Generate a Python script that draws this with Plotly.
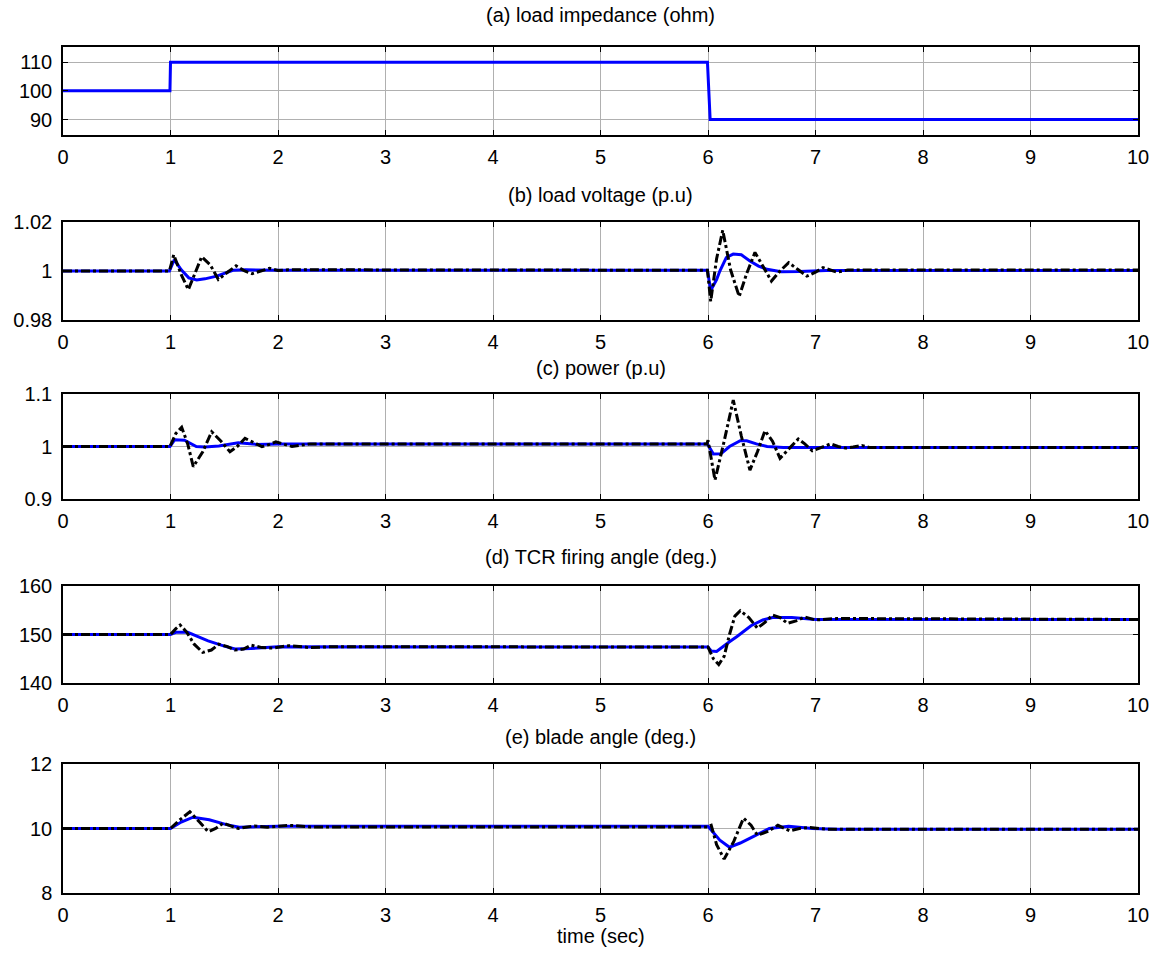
import plotly.graph_objects as go

# ---------------- data ----------------
t_a = [0, 0.995, 1.0, 5.995, 6.02, 10]
z_a = [100, 100, 110, 110, 90, 90]

t_b_blue = [0, 0.99, 1.035, 1.10, 1.17, 1.244, 1.32, 1.43, 1.58, 1.7, 2.0, 5.995, 6.025, 6.08, 6.11, 6.17,
            6.235, 6.31, 6.39, 6.47, 6.55, 6.68, 6.85, 7.1, 10]
v_b_blue = [1.0, 1.0, 1.0046, 1.0005, 0.9972, 0.9963, 0.9968, 0.9979, 1.0003, 1.0005, 1.0003, 1.0003, 0.992,
            0.9965, 1.0, 1.0055, 1.0069, 1.0066, 1.0041, 1.002, 1.0007, 0.9997, 0.9998, 1.0002, 1.0002]

t_b_blk = [0, 0.99, 1.03, 1.10, 1.166, 1.23, 1.29, 1.37, 1.445, 1.53, 1.61, 1.69, 1.76, 1.84, 1.92, 2.0, 2.1,
           5.995, 6.025, 6.08, 6.137, 6.21, 6.29, 6.36, 6.437, 6.51, 6.59, 6.67, 6.75, 6.84, 6.92, 7.0, 7.07,
           7.2, 7.3, 10]
v_b_blk = [1.0, 1.0, 1.0066, 0.9985, 0.9924, 0.9995, 1.0058, 1.0025, 0.99655, 0.9995, 1.0021, 1.0, 0.9989,
           1.0, 1.0011, 1.0002, 1.0005, 1.0003, 0.9876, 1.005, 1.0166, 1.0005, 0.9896, 0.999, 1.0076, 1.002,
           0.9959, 1.0, 1.0034, 1.0005, 0.9979, 0.9995, 1.0014, 0.9995, 1.0004, 1.0004]

t_c_blue = [0, 0.995, 1.04, 1.13, 1.24, 1.32, 1.45, 1.63, 1.8, 2.0, 5.995, 6.05, 6.12, 6.2, 6.3, 6.36,
            6.45, 6.55, 6.7, 10]
v_c_blue = [1.0, 1.0, 1.013, 1.012, 1.0, 0.999, 1.001, 1.007, 1.004, 1.005, 1.005, 0.9857, 0.986, 1.0,
            1.011, 1.011, 1.005, 1.0, 0.998, 0.998]

t_c_blk = [0, 0.995, 1.05, 1.104, 1.16, 1.212, 1.30, 1.383, 1.47, 1.553, 1.62, 1.693, 1.77, 1.85, 1.92,
           1.98, 2.06, 2.13, 2.3, 5.99, 6.0, 6.065, 6.15, 6.235, 6.31, 6.39, 6.46, 6.53, 6.60, 6.67, 6.75,
           6.84, 6.90, 6.97, 7.05, 7.14, 7.21, 7.28, 7.35, 7.43, 7.5, 10]
v_c_blk = [1.0, 1.0, 1.025, 1.0366, 1.005, 0.9616, 0.99, 1.028, 1.01, 0.99, 1.0, 1.0156, 1.008, 0.9997,
           1.004, 1.009, 1.004, 1.0, 1.005, 1.005, 1.012, 0.936, 1.01, 1.0886, 1.02, 0.955, 0.99, 1.030,
           1.01, 0.9775, 0.995, 1.0143, 1.005, 0.992, 0.998, 1.005, 1.0, 0.997, 0.999, 1.002, 0.998, 0.998]

t_d_blue = [0, 1.0, 1.05, 1.16, 1.25, 1.35, 1.5, 1.6, 1.75, 2.0, 6.0, 6.03, 6.08, 6.13, 6.2, 6.27, 6.4,
            6.51, 6.6, 6.78, 7.0, 10]
v_d_blue = [150, 150, 150.45, 150.45, 149.6, 148.7, 147.6, 147.0, 147.1, 147.5, 147.4, 146.6, 146.5,
            147.4, 148.5, 149.6, 151.8, 153.0, 153.5, 153.5, 153.1, 153.1]

t_d_blk = [0, 1.0, 1.05, 1.09, 1.15, 1.22, 1.30, 1.38, 1.45, 1.53, 1.6, 1.68, 1.75, 1.85, 1.95, 2.1, 2.3,
           2.5, 6.0, 6.05, 6.1, 6.15, 6.2, 6.25, 6.30, 6.38, 6.46, 6.53, 6.6, 6.67, 6.74, 6.82, 6.9, 7.0,
           7.2, 10]
v_d_blk = [150, 150, 151.2, 151.96, 150.5, 148.0, 146.3, 146.8, 148.0, 147.5, 146.8, 147.0, 147.8, 147.3,
           147.2, 147.7, 147.3, 147.5, 147.4, 145.0, 143.8, 145.5, 150.0, 153.8, 154.9, 153.5, 151.3,
           152.5, 154.0, 153.5, 152.3, 152.8, 153.6, 153.0, 153.3, 153.1]

t_e_blue = [0, 1.0, 1.1, 1.21, 1.36, 1.52, 1.64, 1.8, 2.0, 6.0, 6.11, 6.2, 6.3, 6.42, 6.57, 6.75, 6.97,
            7.2, 10]
v_e_blue = [10, 10, 10.2, 10.35, 10.27, 10.12, 10.04, 10.06, 10.07, 10.07, 9.64, 9.42, 9.55, 9.75, 10.0,
            10.07, 10.0, 9.98, 9.98]

t_e_blk = [0, 1.0, 1.08, 1.18, 1.27, 1.35, 1.42, 1.49, 1.56, 1.63, 1.7, 1.78, 1.9, 2.1, 2.3, 6.0, 6.03,
           6.08, 6.15, 6.24, 6.33, 6.4, 6.46, 6.55, 6.65, 6.76, 6.85, 6.95, 7.1, 10]
v_e_blk = [10, 10, 10.25, 10.52, 10.2, 9.9, 10.0, 10.17, 10.08, 10.0, 10.04, 10.08, 10.04, 10.1, 10.05,
           10.05, 10.1, 9.5, 9.05, 9.6, 10.32, 10.1, 9.79, 9.9, 10.1, 9.93, 10.0, 10.03, 9.98, 9.98]

titles = ["(a) load impedance (ohm)", "(b) load voltage (p.u)", "(c) power (p.u)",
          "(d) TCR firing angle (deg.)", "(e) blade angle (deg.)"]
y_ranges = [[84.6, 115.3], [0.98, 1.02], [0.9, 1.1], [140, 160], [8, 12]]
y_ticks = [[90, 100, 110], [0.98, 1, 1.02], [0.9, 1, 1.1], [140, 150, 160], [8, 10, 12]]
y_ticktext = [["90", "100", "110"], ["0.98", "1", "1.02"], ["0.9", "1", "1.1"],
              ["140", "150", "160"], ["8", "10", "12"]]
x_ticks = list(range(0, 11))
x_label = "time (sec)"

# ---------------- layout geometry (page pixels) ----------------
W, H = 1158, 957
x0px, x1px = 63, 1138
panels_px = [(47, 135), (222, 320), (394, 499), (586, 683), (764, 893)]
title_px = [15, 195, 368, 557, 737]


def px_x(p):
    return p / W


def px_y(p):
    return 1 - p / H


FONT = "Liberation Sans, Arial, sans-serif"
FS = 20
fig = go.Figure()

blue_sets = [(t_a, z_a), (t_b_blue, v_b_blue), (t_c_blue, v_c_blue), (t_d_blue, v_d_blue), (t_e_blue, v_e_blue)]
blk_sets = [None, (t_b_blk, v_b_blk), (t_c_blk, v_c_blk), (t_d_blk, v_d_blk), (t_e_blk, v_e_blk)]

for i in range(5):
    xa = "x" if i == 0 else f"x{i+1}"
    ya = "y" if i == 0 else f"y{i+1}"
    tb, vb = blue_sets[i]
    fig.add_trace(go.Scatter(x=tb, y=vb, mode="lines", xaxis=xa, yaxis=ya,
                             line=dict(color="#0000ff", width=3), showlegend=False, hoverinfo="skip"))
    if blk_sets[i] is not None:
        tk, vk = blk_sets[i]
        fig.add_trace(go.Scatter(x=tk, y=vk, mode="lines", xaxis=xa, yaxis=ya,
                                 line=dict(color="#000000", width=3, dash="dashdot"),
                                 showlegend=False, hoverinfo="skip"))

layout = dict(width=W, height=H, margin=dict(l=0, r=0, t=0, b=0),
              paper_bgcolor="white", plot_bgcolor="white",
              font=dict(family=FONT, size=FS, color="black"), showlegend=False)

annotations = []
for i in range(5):
    top, bot = panels_px[i]
    sfx = "" if i == 0 else str(i + 1)
    xdom = [px_x(x0px), px_x(x1px)]
    ydom = [px_y(bot), px_y(top)]
    layout["xaxis" + sfx] = dict(domain=xdom, range=[0, 10], anchor="y" + sfx,
                                 tickmode="array", tickvals=x_ticks, ticktext=[str(v) for v in x_ticks],
                                 showgrid=True, gridcolor="#b0b0b0", gridwidth=1,
                                 showline=True, linecolor="black", linewidth=1.5, mirror="allticks",
                                 ticks="inside", ticklen=5, tickcolor="black", tickwidth=1.2,
                                 ticklabelstandoff=3,
                                 zeroline=False, tickfont=dict(size=FS, family=FONT), automargin=False,
                                 fixedrange=True)
    layout["yaxis" + sfx] = dict(domain=ydom, range=y_ranges[i], anchor="x" + sfx,
                                 tickmode="array", tickvals=y_ticks[i], ticktext=y_ticktext[i],
                                 showgrid=True, gridcolor="#b0b0b0", gridwidth=1,
                                 showline=True, linecolor="black", linewidth=1.5, mirror="allticks",
                                 ticks="inside", ticklen=5, tickcolor="black", tickwidth=1.2,
                                 ticklabelstandoff=5,
                                 zeroline=False, tickfont=dict(size=FS, family=FONT), automargin=False,
                                 fixedrange=True)
    annotations.append(dict(text=titles[i], x=px_x((x0px + x1px) / 2), y=px_y(title_px[i]),
                            xref="paper", yref="paper", xanchor="center", yanchor="middle",
                            showarrow=False, font=dict(size=FS, family=FONT, color="black")))

annotations.append(dict(text=x_label, x=px_x((x0px + x1px) / 2), y=px_y(936),
                        xref="paper", yref="paper", xanchor="center", yanchor="middle",
                        showarrow=False, font=dict(size=FS, family=FONT, color="black")))
layout["annotations"] = annotations
fig.update_layout(**layout)

fig.write_html("out.html", config={"displayModeBar": False},
               post_script="document.body.style.margin='0px';")
